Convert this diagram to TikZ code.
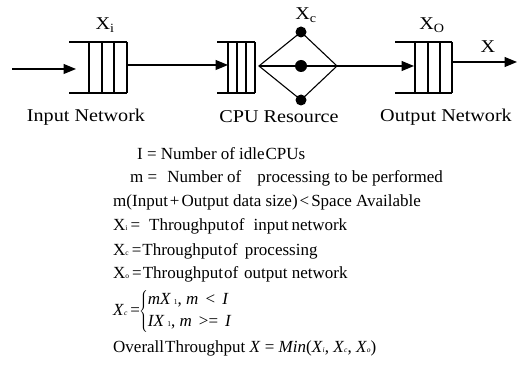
\documentclass[tikz,border=0pt]{standalone}
\usepackage{fontspec}
\setmainfont{Liberation Serif}[FakeStretch=1.12]
\newfontfamily\bodyfont{Liberation Serif}
\usetikzlibrary{arrows.meta}
\newcommand{\tsub}[1]{{\fontsize{7.5}{7.5}\selectfont #1}}
\begin{document}
\begin{tikzpicture}[x=1pt,y=-1pt,
  qline/.style={line width=1.2pt},
  arr/.style={line width=1.2pt,-{Triangle[length=12.5pt,width=10pt]}},
  dot/.style={circle,fill=black,inner sep=0pt,minimum size=11pt},
  lbl/.style={inner sep=0pt,font=\fontsize{18}{22}\selectfont},
  txt/.style={anchor=base west,inner sep=0pt,font=\bodyfont\fontsize{17}{23}\selectfont}]
\useasboundingbox (0,0) rectangle (521,379);

% input queue
\draw[qline] (69,42) -- (127,42) (69,93) -- (127,93);
\foreach \x in {89,102,114,127} \draw[qline] (\x,42) -- (\x,93);
% CPU queue
\draw[qline] (217,42) -- (255,42) (217,93) -- (255,93);
\foreach \x in {228,237,246,255} \draw[qline] (\x,42) -- (\x,93);
% output queue
\draw[qline] (395,42) -- (452,42) (395,93) -- (452,93);
\foreach \x in {415,428,440,452} \draw[qline] (\x,42) -- (\x,93);

% named points
\coordinate (src) at (12,69);
\coordinate (inq) at (76,69);
\coordinate (inqout) at (127,65);
\coordinate (cpuq) at (228,65);
\coordinate (dl) at (259,66);
\coordinate (dt) at (301,32);
\coordinate (dr) at (337,66);
\coordinate (db) at (301,100);
\coordinate (outq) at (414,66);
\coordinate (outqout) at (452,62);
\coordinate (sink) at (517,62);

% diamond
\draw[line width=1.1pt] (dl) -- (dt) -- (dr) -- (db) -- cycle;
\draw[line width=1.1pt] (dl) -- (dr);
\node[dot] (d1) at (dt) {};
\node[dot,minimum size=12pt] (d2) at (301,66) {};
\node[dot] (d3) at (db) {};

% connectors
\draw[arr] (src) -- (inq);
\draw[arr] (inqout) -- (cpuq);
\draw[arr] (dr) -- (outq);
\draw[arr] (outqout) -- (sink);

% top labels
\node[lbl] (xi) at (105,25) {X\textsubscript{i}};
\node[lbl] (xc) at (306,15) {X\textsubscript{c}};
\node[lbl] (xo) at (432,25) {X\textsubscript{O}};
\node[lbl] (x) at (488,47) {X};

% bottom labels
\node[lbl] (lin) at (86,117) {Input Network};
\node[lbl] (lcpu) at (279,117) {CPU Resource};
\node[lbl] (lout) at (446,117) {Output Network};

% text lines
\node[txt] (t1) at (137,160) {I = Number of\hspace{4pt}idle\hspace{1pt}CPUs};
\node[txt] (t2) at (130,183) {m =\hspace{10pt}Number of\hspace{16pt}processing to be performed};
\node[txt] (t3) at (113,207) {m(Input\hspace{2pt}+\hspace{2pt}Output data size)\hspace{2pt}<\hspace{2pt}Space Available};
\node[txt] (t4) at (113,230) {X\tsub{i}\hspace{3pt}=\hspace{9pt}Throughput\hspace{1pt}of\hspace{9pt}input\hspace{3pt}network};
\node[txt] (t5) at (113,255) {X\tsub{c}\hspace{3pt}=\hspace{1pt}Throughput\hspace{1pt}of\hspace{7pt}processing};
\node[txt] (t6) at (113,278) {X\tsub{o}\hspace{3pt}=\hspace{1pt}Throughput\hspace{1pt}of\hspace{6pt}output network};
\node[txt,anchor=west] (t7) at (113,311) {\delimitershortfall=8pt\textit{X}\tsub{\textit{c}}\hspace{3pt}=\hspace{-1pt}$\left\{\begin{array}{@{}l@{}}
  \mbox{\textit{mX}\,\tsub{1}, \textit{m}\, <\, \textit{I}}\\[-1pt]
  \mbox{\textit{IX}\,\tsub{1}, \textit{m}\, >=\, \textit{I}}
  \end{array}\right.$};
\node[txt] (t8) at (113,352) {Overall\hspace{1pt}Throughput \textit{X} = \textit{Min}(\textit{X}\tsub{\textit{i}}, \textit{X}\tsub{\textit{c}}, \textit{X}\tsub{\textit{o}})};
\end{tikzpicture}
\end{document}
